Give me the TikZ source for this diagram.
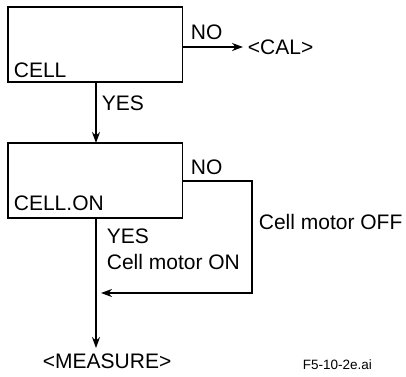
\documentclass[tikz,border=0pt]{standalone}
\usepackage{fontspec}
\setmainfont{Liberation Sans}
\usetikzlibrary{arrows.meta}
\begin{document}
\begin{tikzpicture}[x=1pt,y=-1pt, line width=1.8pt,
 box/.style={draw, minimum width=174.5pt, minimum height=75pt, anchor=north west, inner sep=0pt, outer sep=0pt},
 lbl/.style={font=\fontsize{21}{25}\selectfont, inner sep=0pt, anchor=west},
 small/.style={font=\fontsize{13.5}{16}\selectfont, inner sep=0pt, anchor=west},
 arr/.style={-{Stealth[length=11pt,width=8pt]}}]
\useasboundingbox (0,0) rectangle (406,376);
% boxes
\node[box] (b1) at (8,7) {};
\node[box] (b2) at (8,143) {};
% texts
\node[lbl] (cell) at (13,70) {CELL};
\node[lbl] (no1) at (190,32) {NO};
\node[lbl] (cal) at (247,47) {<CAL>};
\node[lbl] (yes1) at (101,103) {YES};
\node[lbl] (cellon) at (13,203) {CELL.ON};
\node[lbl] (no2) at (190,167) {NO};
\node[lbl] (off) at (258,222) {Cell motor OFF};
\node[lbl] (yes2) at (106,236) {YES};
\node[lbl] (on) at (106,262) {Cell motor ON};
\node[lbl] (meas) at (42,361) {<MEASURE>};
\node[small] (file) at (302,365) {F5-10-2e.ai};
% connector points
\coordinate (x96) at (96,0);
\coordinate (calin) at (243,47);
\coordinate (n1) at (252,181);
\coordinate (n2) at (252,293);
\coordinate (ret) at (101,293);
\coordinate (mtip) at (96,348);
% connectors
\draw[arr] (b1.south -| x96) -- (b2.north -| x96);
\draw[arr] (b1.east |- calin) -- (calin);
\draw[arr] (b2.east |- n1) -- (n1) -- (n2) -- (ret);
\draw[arr] (b2.south -| x96) -- (mtip);
\end{tikzpicture}
\end{document}
